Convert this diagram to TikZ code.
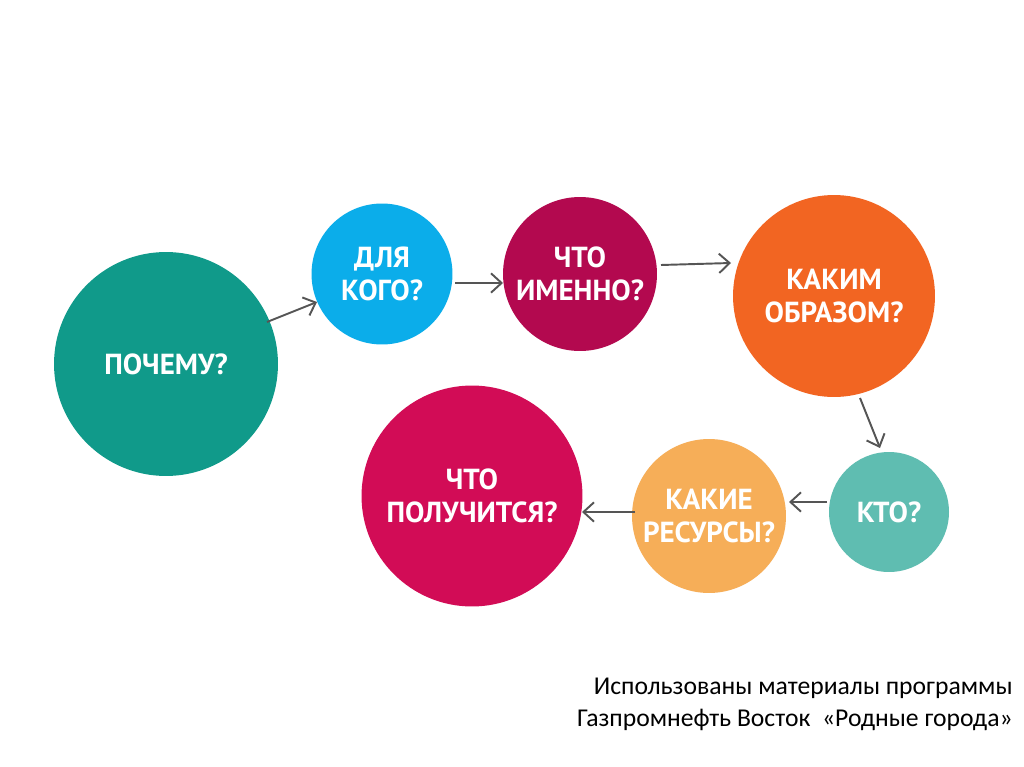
\documentclass[tikz,border=0pt]{standalone}
\usepackage{fontspec}
\setmainfont{Carlito}
\newfontfamily\qfont{PT Sans}
\usetikzlibrary{arrows.meta}
\definecolor{cA}{HTML}{109A8A}
\definecolor{cB}{HTML}{0BADEA}
\definecolor{cC}{HTML}{B3094F}
\definecolor{cD}{HTML}{F26522}
\definecolor{cE}{HTML}{5FBDB1}
\definecolor{cF}{HTML}{F6AE58}
\definecolor{cG}{HTML}{D20C56}
\definecolor{arr}{HTML}{555555}
\begin{document}
\begin{tikzpicture}[x=0.02cm,y=-0.02cm,
  q/.style={circle, inner sep=0pt, text=white, align=center,
    font=\qfont\bfseries\fontsize{16.5}{19}\selectfont},
  link/.style={draw=arr, line width=1.1pt, -{Straight Barb[length=6pt,width=11pt,line width=1.1pt]}}]
\useasboundingbox[fill=white] (0,0) rectangle (1024,767);
\node[q, fill=cA, minimum size=4.48cm] (why) at (166,364) {ПОЧЕМУ?};
\node[q, fill=cB, minimum size=2.82cm] (whom) at (382,274) {ДЛЯ\\КОГО?};
\node[q, fill=cC, minimum size=3.08cm] (what) at (580,274) {ЧТО\\ИМЕННО?};
\node[q, fill=cD, minimum size=4.04cm] (how) at (834,296) {КАКИМ\\ОБРАЗОМ?};
\node[q, fill=cE, minimum size=2.40cm] (who) at (889,512) {КТО?};
\node[q, fill=cF, minimum size=3.08cm] (res) at (709,516) {КАКИЕ\\РЕСУРСЫ?};
\node[q, fill=cG, minimum size=4.42cm] (res2) at (472,496) {ЧТО\\ПОЛУЧИТСЯ?};
\coordinate (a1) at (267,322); \coordinate (b1) at (317,302);
\coordinate (a2) at (455,283); \coordinate (b2) at (503,283);
\coordinate (a3) at (661,265); \coordinate (b3) at (731,263);
\coordinate (a4) at (860,398); \coordinate (b4) at (880,448);
\coordinate (a5) at (827,502); \coordinate (b5) at (789,502);
\coordinate (a6) at (635,512); \coordinate (b6) at (582,512);
\draw[link] (a1) -- (b1);
\draw[link] (a2) -- (b2);
\draw[link] (a3) -- (b3);
\draw[link] (a4) -- (b4);
\draw[link] (a5) -- (b5);
\draw[link] (a6) -- (b6);
\node[anchor=north east, align=right, inner sep=0pt, font=\fontsize{14.6}{18.3}\selectfont] (note) at (1013,678)
  {Использованы материалы программы\\Газпромнефть Восток~~«Родные города»};
\end{tikzpicture}
\end{document}
